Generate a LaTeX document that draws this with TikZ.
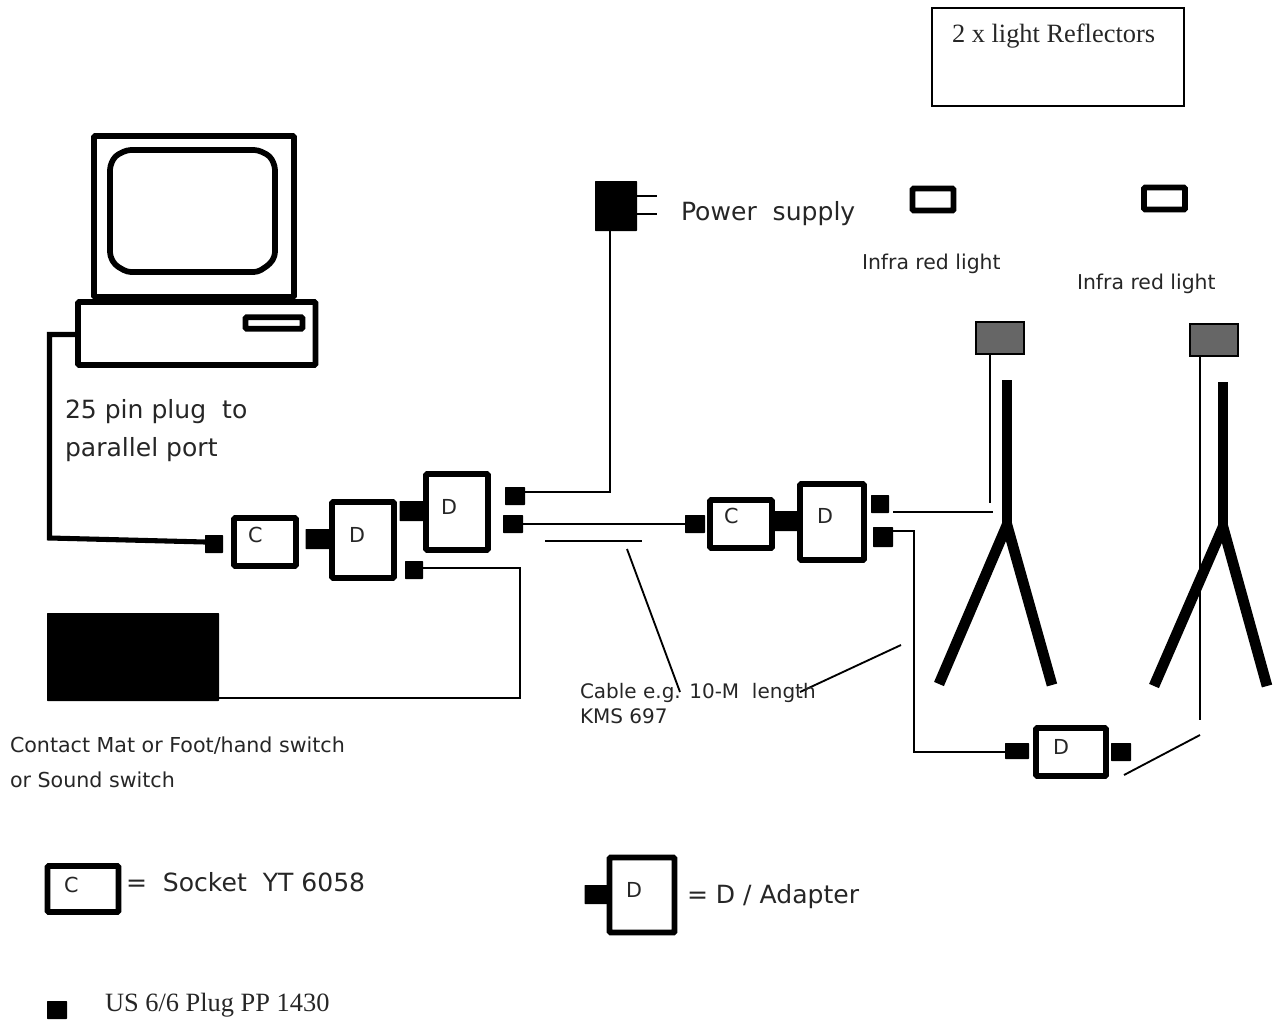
\documentclass[tikz,border=0pt]{standalone}
\usepackage{fontspec}
\setmainfont{DejaVu Sans}
\newfontfamily\serifface{Liberation Serif}
\newcommand{\fs}[1]{\fontsize{#1}{#1}\selectfont}
\tikzset{
  x=0.75pt,y=-0.75pt,
  thickbox/.style={draw=black,line width=4.3pt,rounded corners=0.8pt,fill=white,inner sep=0pt,outer sep=0pt,anchor=center},
  plugblock/.style={fill=black,draw=none,inner sep=0pt,outer sep=0pt,rounded corners=0.5pt},
  wire/.style={draw=black,line width=1.5pt},
  thinwire/.style={draw=black,line width=1.4pt},
  heavy/.style={draw=black,line width=3.8pt},
  leg/.style={draw=black,line width=8pt},
  post/.style={draw=black,line width=7.6pt},
  lbl/.style={anchor=west,inner sep=0pt,outer sep=0pt,text=black!85},
  lampbox/.style={draw=black,line width=1.5pt,fill=black!60,inner sep=0pt,outer sep=0pt},
}
\newcommand{\rectnode}[6][]{\node[#2,#1,minimum width=#5*0.75pt,minimum height=#6*0.75pt] (#3) at (#4) {};}
\begin{document}
\begin{tikzpicture}
\useasboundingbox (0,0) rectangle (1275,1021);
% computer
\rectnode{thickbox}{mon}{194,216.5}{200}{161}
\draw[draw=black,line width=4.3pt,rounded corners=3pt,line join=round] (127,150) -- (258,150) -- (270,156) -- (275,166) -- (275,256) -- (270,264) -- (258,272) -- (127,272) -- (115,265) -- (110,256) -- (110,166) -- (115,156) -- cycle;
\rectnode{thickbox}{base}{196.75,333.5}{237.5}{63}
\rectnode{thickbox}{slot}{274,323}{57}{11.5}
% cables in
\rectnode{plugblock}{p1}{214,544}{18}{18}
\coordinate (bend1) at (49.5,334.5);
\coordinate (bend2) at (49.5,538);
\draw[heavy,line join=miter] (base.west |- bend1) -- (bend1) -- (bend2) -- (p1.west |- 0,542);
% chain 1
\rectnode{thickbox}{c1}{265,542}{62}{48}
\rectnode{plugblock}{l1}{318,539}{25}{20}
\rectnode{thickbox}{d1}{363,540}{62}{76}
\rectnode{plugblock}{l2}{412,511}{25}{20}
\rectnode{thickbox}{d2}{457,512}{62}{76}
\rectnode{plugblock}{p2}{515,496}{20}{18}
\rectnode{plugblock}{p3}{513,524}{20}{18}
\rectnode{plugblock}{p4}{414,570}{18}{18}
\node[lbl,font=\fs{15.5}] (tc1) at (248,535) {C};
\node[lbl,font=\fs{15.5}] (td1) at (349,535) {D};
\node[lbl,font=\fs{15.5}] (td2) at (441,507) {D};
% black mat
\rectnode{plugblock}{mat}{133,657}{172}{88}
\draw[wire] (p4.east |- 0,568) -- (520,568) -- (520,698) -- (mat.east |- 0,698);
% power
\rectnode{plugblock}{pw}{616,206}{42}{50}
\coordinate (pa) at (657,196);
\coordinate (pb) at (657,214);
\draw[wire] (pw.east |- pa) -- (pa);
\draw[wire] (pw.east |- pb) -- (pb);
\coordinate (pj) at (610,492);
\draw[wire] (pw.south -| pj) -- (pj) -- (p2.east |- pj);
% cable
\rectnode{plugblock}{p5}{695,524}{20}{18}
\draw[wire] (p3.east) -- (p5.west);
\coordinate (s1) at (545,541);
\coordinate (s2) at (642,541);
\draw[wire] (s1) -- (s2);
\coordinate (s3) at (627,549);
\coordinate (s4) at (680,692);
\draw[thinwire] (s3) -- (s4);
\coordinate (s5) at (800,692);
\coordinate (s6) at (901,645);
\draw[thinwire] (s5) -- (s6);
% chain 2
\rectnode{thickbox}{c2}{741,524}{62}{48}
\rectnode{plugblock}{l3}{786,521}{24}{20}
\rectnode{thickbox}{d3}{832,522}{64}{76}
\rectnode{plugblock}{p6}{880,504}{18}{18}
\rectnode{plugblock}{p7}{883,537}{20}{20}
\node[lbl,font=\fs{15.5}] (tc2) at (724,516) {C};
\node[lbl,font=\fs{15.5}] (td3) at (817,516) {D};
% d4
\rectnode{thickbox}{d4}{1071,752}{70}{48}
\rectnode{plugblock}{p8}{1017,751}{24}{16}
\rectnode{plugblock}{p9}{1121,752}{20}{18}
\node[lbl,font=\fs{15.5}] (td4) at (1053,747) {D};
\coordinate (w1) at (914,531);
\coordinate (w2) at (914,752);
\draw[wire] (p7.east |- w1) -- (w1) -- (w2) -- (p8.west |- w2);
% tripods
\coordinate (ta) at (1007,380);
\coordinate (tj) at (1007,525);
\coordinate (tl) at (939,684);
\coordinate (tr) at (1052,685);
\draw[post] (ta) -- (tj);
\draw[leg] (tl) -- (tj) -- (tr);
\coordinate (ua) at (1223,382);
\coordinate (uj) at (1223,527);
\coordinate (ul) at (1154,686);
\coordinate (ur) at (1267,686);
\draw[post] (ua) -- (uj);
\draw[leg] (ul) -- (uj) -- (ur);
% lamps
\rectnode{lampbox}{l5}{1000,338}{48}{32}
\rectnode{lampbox}{l6}{1214,340}{48}{32}
\coordinate (v1) at (990,503);
\draw[wire] (l5.south -| v1) -- (v1);
\coordinate (v2) at (1200,720);
\draw[wire] (l6.south -| v2) -- (v2);
\coordinate (h1) at (893,512);
\coordinate (h2) at (993,512);
\draw[wire] (h1) -- (h2);
\coordinate (e1) at (1124,775);
\coordinate (e2) at (1200,735);
\draw[thinwire] (e1) -- (e2);
% reflector box
\node[draw=black,line width=1.1pt,minimum width=189pt,minimum height=73.5pt,inner sep=0pt,outer sep=0pt] (refl) at (1058,57) {};
\node[lbl,font=\serifface\fs{19.8}] (treflect) at (952,36) {2 x light Reflectors};
\rectnode{thickbox}{ir1}{933,199.5}{41}{22}
\rectnode{thickbox}{ir2}{1164.5,198.5}{41}{22}
% labels
\node[lbl,font=\fs{18.8}] (tpower) at (681,214) {Power\ \ supply};
\node[lbl,font=\fs{15.3}] (tir1) at (862,264) {Infra red light};
\node[lbl,font=\fs{15.3}] (tir2) at (1077,284) {Infra red light};
\node[lbl,font=\fs{18.8}] (tpin1) at (65,412) {25 pin plug\ \ to};
\node[lbl,font=\fs{18.8}] (tpin2) at (65,450) {parallel port};
\node[lbl,font=\fs{15}] (tcab1) at (580,693) {Cable e.g. 10-M\ \ length};
\node[lbl,font=\fs{15}] (tcab2) at (580,716) {KMS 697};
\node[lbl,font=\fs{15.45}] (tmat1) at (10,746) {Contact Mat or Foot/hand switch};
\node[lbl,font=\fs{15.45}] (tmat2) at (10,780) {or Sound switch};
% legend
\rectnode{thickbox}{lc}{83,889}{71}{46}
\node[lbl,font=\fs{15.5}] (tlc) at (64,885) {C};
\node[lbl,font=\fs{18.8}] (tlc2) at (126,882) {=\ \ Socket\ \ YT 6058};
\rectnode{plugblock}{ldp}{597,894.5}{25}{19}
\rectnode{thickbox}{ld}{642,895}{65}{75}
\node[lbl,font=\fs{15.5}] (tld) at (626,890) {D};
\node[lbl,font=\fs{18.8}] (tld2) at (687,897) {= D / Adapter};
\rectnode{plugblock}{lp}{57,1010}{20}{18}
\node[lbl,font=\serifface\fs{19.8}] (tlp) at (105,1005) {US 6/6 Plug PP 1430};
\end{tikzpicture}
\end{document}
